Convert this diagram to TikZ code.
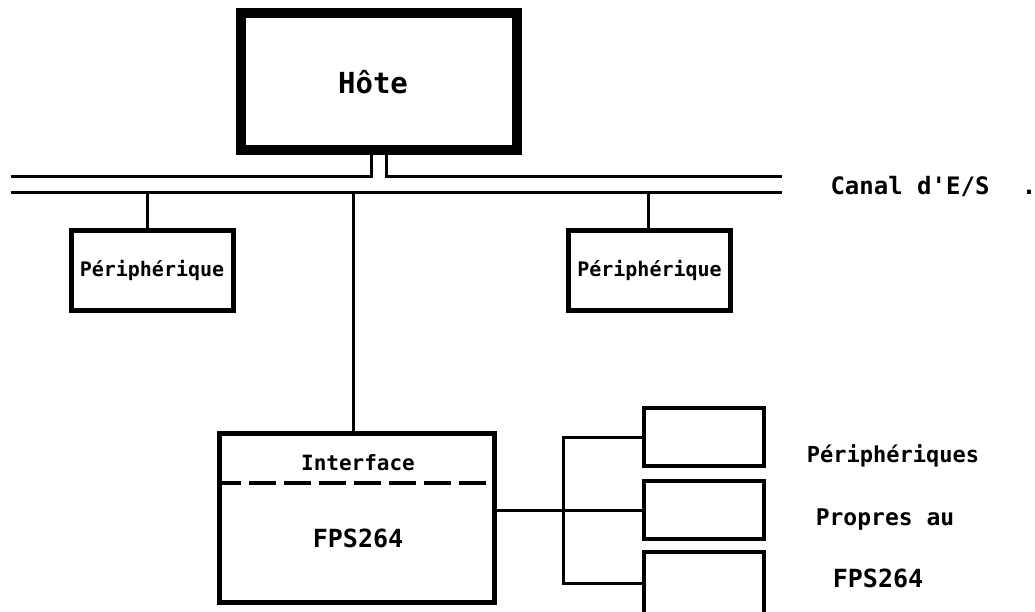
\documentclass[tikz,border=0pt]{standalone}
\usepackage{fontspec}
\setmonofont{DejaVu Sans Mono}
\newcommand{\fs}[1]{\fontsize{#1}{#1}\selectfont}
\begin{document}
\begin{tikzpicture}[x=1pt,y=-1pt,
  every node/.style={font=\ttfamily\bfseries, inner sep=0pt, outer sep=0pt},
  hostbox/.style={draw, line width=10pt, minimum width=275.5pt, minimum height=137pt},
  perbox/.style={draw, line width=5pt, minimum width=162pt, minimum height=80pt},
  smallbox/.style={draw, line width=3.5pt, minimum width=120pt, minimum height=58pt},
  bus/.style={line width=3pt},
  wire/.style={line width=3pt},
  lbl/.style={anchor=base}]
\useasboundingbox (0,0) rectangle (1035,612);
\fill[white] (0,0) rectangle (1035,612);

% host
\node[hostbox, font=\ttfamily\bfseries\fs{29}] (host) at (379,82) {\hspace*{-12pt}\raisebox{-2pt}{H\^ote}};

% bus coordinates
\coordinate (busUL) at (11,177);
\coordinate (busUR) at (782,177);
\coordinate (busLL) at (11,193);
\coordinate (busLR) at (782,193);

% upper bus with opening to host
\draw[bus] (busUL) -- ([xshift=-7.5pt]host.south |- busUL) -- ([xshift=-7.5pt]host.south);
\draw[bus] (busUR) -- ([xshift=7.5pt]host.south |- busUR) -- ([xshift=7.5pt]host.south);
% lower bus
\draw[bus] (busLL) -- (busLR);

\node[lbl, font=\ttfamily\bfseries\fs{24}] (canal) at (910,195) {Canal d'E/S};
\node[lbl, font=\ttfamily\bfseries\fs{24}] (dot) at (1029,195) {.};

% peripherals on the bus
\node[perbox, font=\ttfamily\bfseries\fs{20}] (p1) at (152,270.5) {P\'eriph\'erique};
\node[perbox, font=\ttfamily\bfseries\fs{20}] (p2) at (649.5,270.5) {P\'eriph\'erique};
\draw[wire] ([xshift=-5pt]p1.north) -- ([xshift=-5pt]p1.north |- busLL);
\draw[wire] ([xshift=-1.5pt]p2.north) -- ([xshift=-1.5pt]p2.north |- busLL);

% interface / FPS264
\node[draw, line width=5pt, minimum width=275pt, minimum height=169pt] (iface) at (357,518) {};
\node[lbl, font=\ttfamily\bfseries\fs{21}] (ifl) at (358,470) {Interface};
\node[lbl, font=\ttfamily\bfseries\fs{25}] (fps) at (358,547) {FPS264};
\draw[line width=4pt, dash pattern=on 27pt off 8pt, dash phase=8pt]
  ([xshift=2.5pt]iface.west |- 0,483) -- ([xshift=-2.5pt]iface.east |- 0,483);
\draw[wire] (iface.north -| 353,0) -- (353,193);

% own peripherals
\node[smallbox] (b1) at (704,437) {};
\node[smallbox] (b2) at (704,510) {};
\node[smallbox, minimum height=62pt] (b3) at (704,583) {};
\coordinate (vx) at (563,0);
\draw[wire] (b1.west) -- (b1.west -| vx) -- (b3.west -| vx) -- (b3.west);
\draw[wire] (b2.west) -- (b2.west -| iface.east);

\node[lbl, font=\ttfamily\bfseries\fs{22}] (t1) at (893,462) {P\'eriph\'eriques};
\node[lbl, font=\ttfamily\bfseries\fs{23}] (t2) at (885,525) {Propres au};
\node[lbl, font=\ttfamily\bfseries\fs{25}] (t3) at (878,587) {FPS264};
\end{tikzpicture}
\end{document}
